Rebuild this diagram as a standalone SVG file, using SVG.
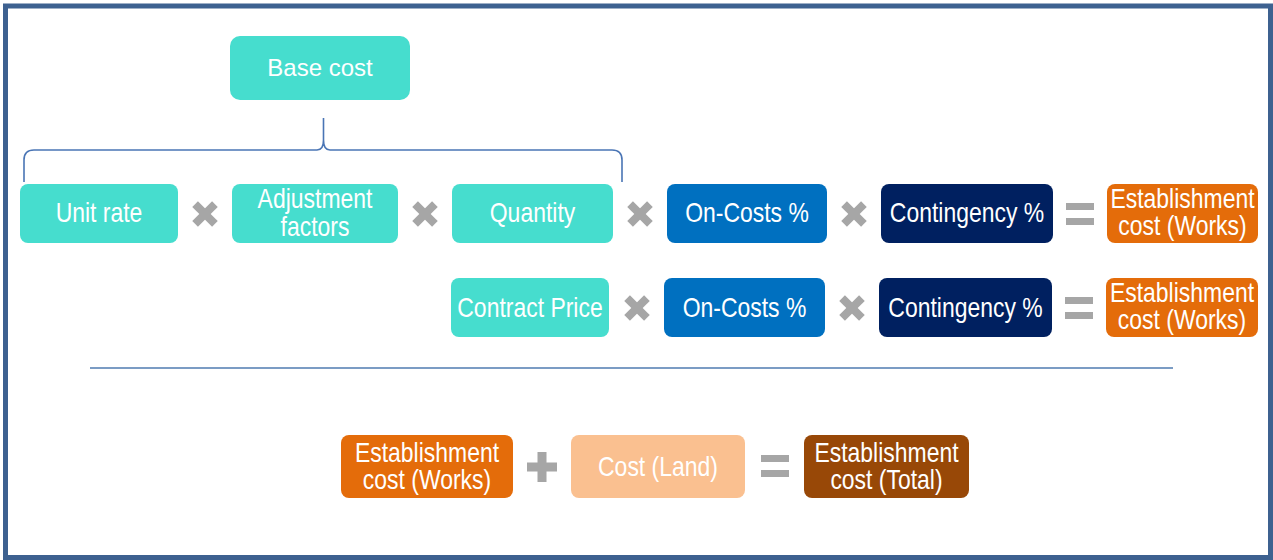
<svg xmlns="http://www.w3.org/2000/svg" width="1273" height="560" viewBox="0 0 1273 560">
  <style>
    .box { stroke: none; }
    .teal { fill: #46DDCE; }
    .blue { fill: #0070C0; }
    .navy { fill: #002060; }
    .orange { fill: #E46C0A; }
    .peach { fill: #FAC090; }
    .brown { fill: #984807; }
    /* condensed white labels: Arial metrics squeezed horizontally via transform */
    .lbl { font-family: "Liberation Sans", Arial, sans-serif; font-size: 28px; fill: #FFFFFF; text-anchor: middle; }
    .base { font-family: "Liberation Sans", Arial, sans-serif; font-size: 24px; fill: #FFFFFF; text-anchor: middle; }
    .op { fill: #A6A6A6; }
    .brace { fill: none; stroke: #4A75B5; stroke-width: 1.6; }
    .rule { stroke: #4F7BB0; stroke-width: 1.5; }
  </style>
  <defs>
    <!-- multiply sign -->
    <g id="times" class="op">
      <rect x="-14" y="-4" width="28" height="8" transform="rotate(45)"/>
      <rect x="-14" y="-4" width="28" height="8" transform="rotate(-45)"/>
    </g>
    <!-- plus sign -->
    <g id="plus" class="op">
      <rect x="-15" y="-4.5" width="30" height="9"/>
      <rect x="-4.5" y="-15" width="9" height="30"/>
    </g>
    <!-- equals sign -->
    <g id="equals" class="op">
      <rect x="-14" y="-11" width="28" height="7"/>
      <rect x="-14" y="4" width="28" height="7"/>
    </g>
  </defs>

  <rect width="1273" height="560" fill="#FFFFFF"/>
  <!-- frame -->
  <rect x="5.5" y="6" width="1265" height="551.5" fill="none" stroke="#3D6190" stroke-width="5"/>

  <!-- connectors: brace, separator and operators -->
  <g id="connectors">
    <path class="brace" d="M24,182 V160 Q24,150 34,150 H317 Q323.5,150 323.5,140 V118 M323.5,140 Q323.5,150 330,150 H612 Q622,150 622,160 V182"/>
    <line class="rule" x1="90" y1="368" x2="1173" y2="368"/>
    <use href="#times" x="205" y="214"/>
    <use href="#times" x="425" y="214"/>
    <use href="#times" x="640" y="214"/>
    <use href="#times" x="854" y="214"/>
    <use href="#equals" x="1080" y="214"/>
    <use href="#times" x="637" y="308"/>
    <use href="#times" x="852" y="308"/>
    <use href="#equals" x="1079" y="308"/>
    <use href="#plus" x="542" y="467"/>
    <use href="#equals" x="775" y="466"/>
  </g>

  <g id="base-cost">
    <rect class="box teal" x="230" y="36" width="180" height="64" rx="10"/>
    <text class="base" x="320" y="76">Base cost</text>
  </g>

  <!-- row 1 -->
  <g id="unit-rate">
    <rect class="box teal" x="20" y="184" width="158" height="59" rx="8"/>
    <text class="lbl" transform="translate(99 222) scale(0.82 1)">Unit rate</text>
  </g>
  <g id="adjustment-factors">
    <rect class="box teal" x="232" y="184" width="166" height="59" rx="8"/>
    <text class="lbl" transform="translate(315 207.5) scale(0.82 1)">Adjustment</text>
    <text class="lbl" transform="translate(315 235.5) scale(0.82 1)">factors</text>
  </g>
  <g id="quantity">
    <rect class="box teal" x="452" y="184" width="161" height="59" rx="8"/>
    <text class="lbl" transform="translate(532.5 222) scale(0.82 1)">Quantity</text>
  </g>
  <g id="on-costs-1">
    <rect class="box blue" x="667" y="184" width="160" height="59" rx="8"/>
    <text class="lbl" transform="translate(747 222) scale(0.82 1)">On-Costs %</text>
  </g>
  <g id="contingency-1">
    <rect class="box navy" x="881" y="184" width="172" height="59" rx="8"/>
    <text class="lbl" transform="translate(967 222) scale(0.82 1)">Contingency %</text>
  </g>
  <g id="establishment-works-1">
    <rect class="box orange" x="1107" y="184" width="151" height="59" rx="8"/>
    <text class="lbl" transform="translate(1182.5 207.5) scale(0.82 1)">Establishment</text>
    <text class="lbl" transform="translate(1182.5 235) scale(0.82 1)">cost (Works)</text>
  </g>

  <!-- row 2 -->
  <g id="contract-price">
    <rect class="box teal" x="451" y="278" width="158" height="59" rx="8"/>
    <text class="lbl" transform="translate(530 317) scale(0.82 1)">Contract Price</text>
  </g>
  <g id="on-costs-2">
    <rect class="box blue" x="664" y="278" width="161" height="59" rx="8"/>
    <text class="lbl" transform="translate(744.5 317) scale(0.82 1)">On-Costs %</text>
  </g>
  <g id="contingency-2">
    <rect class="box navy" x="879" y="278" width="173" height="59" rx="8"/>
    <text class="lbl" transform="translate(965.5 317) scale(0.82 1)">Contingency %</text>
  </g>
  <g id="establishment-works-2">
    <rect class="box orange" x="1106" y="278" width="152" height="59" rx="8"/>
    <text class="lbl" transform="translate(1182 301.5) scale(0.82 1)">Establishment</text>
    <text class="lbl" transform="translate(1182 329) scale(0.82 1)">cost (Works)</text>
  </g>

  <!-- total -->
  <g id="establishment-works-3">
    <rect class="box orange" x="341" y="435" width="172" height="63" rx="8"/>
    <text class="lbl" transform="translate(427 461.5) scale(0.82 1)">Establishment</text>
    <text class="lbl" transform="translate(427 489) scale(0.82 1)">cost (Works)</text>
  </g>
  <g id="cost-land">
    <rect class="box peach" x="571" y="435" width="174" height="63" rx="8"/>
    <text class="lbl" transform="translate(658 476) scale(0.82 1)">Cost (Land)</text>
  </g>
  <g id="establishment-total">
    <rect class="box brown" x="804" y="435" width="165" height="63" rx="8"/>
    <text class="lbl" transform="translate(886.5 461.5) scale(0.82 1)">Establishment</text>
    <text class="lbl" transform="translate(886.5 489) scale(0.82 1)">cost (Total)</text>
  </g>
</svg>
